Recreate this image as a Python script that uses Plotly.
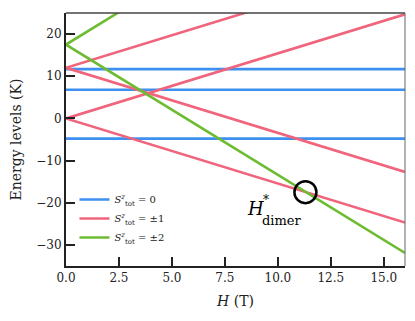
import plotly.graph_objects as go

# field range (T)
H = [0, 16]

# energy levels (K) at H = 0 and at H = 16
blue_start = [11.7, 6.8, -4.8]
blue_end = [11.7, 6.8, -4.8]
pink_start = [0.0, 0.0, 12.0, 12.0]
pink_end = [24.7, -24.7, 36.7, -12.7]
green_start = [17.5, 17.5]
green_end = [66.9, -31.9]

# level crossing marked on the plot
H_star = 11.3
E_star = -17.5

BLUE = '#3d8ff0'
PINK = '#f0647c'
GREEN = '#6cbb30'
FONT = 'DejaVu Serif, serif'

fig = go.Figure()


def add_levels(starts, ends, color, name):
    for i, (a, b) in enumerate(zip(starts, ends)):
        fig.add_trace(go.Scatter(
            x=H, y=[a, b], mode='lines',
            line=dict(color=color, width=2.6),
            name=name, legendgroup=name, showlegend=(i == 0),
        ))


add_levels(blue_start, blue_end, BLUE,
           '<i>S</i><sup><i>z</i></sup><sub>tot</sub> = 0')
add_levels(pink_start, pink_end, PINK,
           '<i>S</i><sup><i>z</i></sup><sub>tot</sub> = ±1')
add_levels(green_start, green_end, GREEN,
           '<i>S</i><sup><i>z</i></sup><sub>tot</sub> = ±2')

# circle around the crossing
fig.add_shape(type='circle', xref='x', yref='y',
              xsizemode='pixel', ysizemode='pixel',
              xanchor=H_star, yanchor=E_star,
              x0=-11, x1=11, y0=-11, y1=11,
              line=dict(color='black', width=2.5))

# H*_dimer label, pieces placed so super/subscript stack
for txt, dx, dy, sz in [('<i>H</i>', -50, -16, 18),
                        ('*', -39, -8, 12),
                        ('dimer', -23, -28, 13)]:
    fig.add_annotation(x=H_star, y=E_star, xref='x', yref='y',
                       text=txt, showarrow=False, xshift=dx, yshift=dy,
                       font=dict(family=FONT, size=sz, color='black'))

# thin top / right frame
fig.add_shape(type='line', xref='x domain', yref='y domain',
              x0=0, x1=1, y0=1, y1=1, line=dict(color='#444', width=1.5))
fig.add_shape(type='line', xref='x domain', yref='y domain',
              x0=1, x1=1, y0=0, y1=1, line=dict(color='#666', width=1))

# page body adds an 8px offset, so the figure is 8px smaller
fig.update_layout(
    width=407, height=313,
    margin=dict(l=58, r=10, t=5, b=55),
    plot_bgcolor='white', paper_bgcolor='white',
    font=dict(family=FONT, size=12, color='#222'),
    legend=dict(x=0.025, y=0.32, xanchor='left', yanchor='top',
                bgcolor='rgba(0,0,0,0)', font=dict(size=10),
                itemwidth=30, tracegroupgap=0),
    xaxis=dict(range=[0, 16], tickvals=[0, 2.5, 5, 7.5, 10, 12.5, 15],
               ticktext=['0.0', '2.5', '5.0', '7.5', '10.0', '12.5', '15.0'],
               ticks='inside', ticklen=9, tickwidth=1.5, tickcolor='#222',
               showline=True, linecolor='#222', linewidth=2,
               showgrid=False, zeroline=False, automargin=False,
               title=dict(text='<i>H</i> (T)', standoff=12,
                          font=dict(size=14))),
    yaxis=dict(range=[-35, 25], tickvals=[-30, -20, -10, 0, 10, 20],
               ticks='inside', ticklen=9, tickwidth=1.5, tickcolor='#222',
               showline=True, linecolor='#222', linewidth=2,
               showgrid=False, zeroline=False, automargin=False,
               title=dict(text='Energy levels (K)', standoff=12,
                          font=dict(size=14))),
)

fig.write_html("out.html")
